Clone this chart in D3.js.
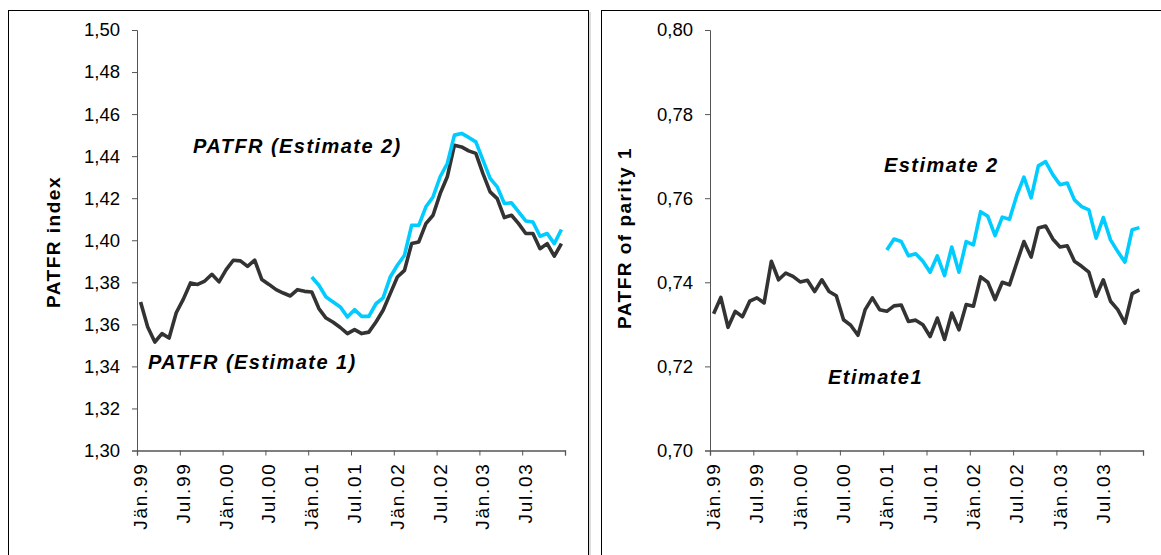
<!DOCTYPE html>
<html><head><meta charset="utf-8">
<script src="https://cdn.jsdelivr.net/npm/d3@7"></script>
<style>
html,body{margin:0;padding:0;background:#fff;}
svg{display:block;font-family:"Liberation Sans",Arial,sans-serif;}
</style></head>
<body>
<svg id="chart" width="1161" height="555"></svg>
<script>
// ---- data ----
const monthNames = ["Jän","Feb","Mär","Apr","Mai","Jun","Jul","Aug","Sep","Okt","Nov","Dez"];
const years = ["99","00","01","02","03"];
const categories = years.flatMap(y => monthNames.map(m => m + "." + y));
const xTickLabels = ["Jän.99","Jul.99","Jän.00","Jul.00","Jän.01","Jul.01","Jän.02","Jul.02","Jän.03","Jul.03"];

const patfrEst1 = [1.3706,1.3587,1.3516,1.3556,1.3535,1.3655,1.3720,1.3797,1.3790,1.3806,1.3838,1.3802,
  1.3860,1.3905,1.3902,1.3876,1.3905,1.3813,1.3790,1.3765,1.3749,1.3735,1.3765,1.3757,
  1.3754,1.3675,1.3630,1.3610,1.3585,1.3556,1.3575,1.3556,1.3563,1.3611,1.3667,1.3746,
  1.3825,1.3857,1.3984,1.3992,1.4079,1.4119,1.4222,1.4302,1.4452,1.4444,1.4425,1.4413,
  1.4317,1.4230,1.4198,1.4108,1.4119,1.4079,1.4032,1.4032,1.3960,1.3984,1.3924,1.3984];
const patfrEst2 = [null,null,null,null,null,null,null,null,null,null,null,null,
  null,null,null,null,null,null,null,null,null,null,null,null,
  1.3825,1.3786,1.3730,1.3706,1.3683,1.3635,1.3670,1.3638,1.3638,1.3698,1.3726,1.3825,
  1.3881,1.3929,1.4071,1.4071,1.4159,1.4206,1.4302,1.4365,1.4500,1.4508,1.4489,1.4468,
  1.4381,1.4294,1.4254,1.4175,1.4178,1.4135,1.4092,1.4087,1.4019,1.4032,1.3984,1.4051];
const parity1Est1 = [0.7325,0.7364,0.7293,0.7331,0.7318,0.7355,0.7363,0.7351,0.7450,0.7406,0.7422,0.7414,
  0.7401,0.7405,0.7378,0.7406,0.7378,0.7368,0.7311,0.7298,0.7274,0.7335,0.7363,0.7335,
  0.7331,0.7344,0.7346,0.7307,0.7310,0.7299,0.7271,0.7315,0.7264,0.7327,0.7287,0.7347,
  0.7343,0.7413,0.7400,0.7359,0.7400,0.7394,0.7446,0.7497,0.7460,0.7529,0.7534,0.7503,
  0.7484,0.7487,0.7450,0.7438,0.7424,0.7367,0.7406,0.7355,0.7335,0.7303,0.7373,0.7382];
const parity1Est2 = [null,null,null,null,null,null,null,null,null,null,null,null,
  null,null,null,null,null,null,null,null,null,null,null,null,
  0.7477,0.7503,0.7497,0.7463,0.7468,0.7450,0.7424,0.7463,0.7416,0.7484,0.7424,0.7497,
  0.7489,0.7568,0.7557,0.7511,0.7555,0.7550,0.7606,0.7650,0.7601,0.7677,0.7687,0.7656,
  0.7632,0.7636,0.7596,0.7580,0.7572,0.7505,0.7554,0.7501,0.7473,0.7448,0.7525,0.7530];

const leftTicks = [1.30,1.32,1.34,1.36,1.38,1.40,1.42,1.44,1.46,1.48,1.50];
const rightTicks = [0.70,0.72,0.74,0.76,0.78,0.80];

const COL_DARK = "#333333", COL_BLUE = "#00ccff";
const FONT = '"Liberation Sans",Arial,sans-serif';

const svg = d3.select("#chart");
const fmt = d => d3.format(".2f")(d).replace(".", ",");

function panel(cfg){
  // frame
  svg.append("rect").attr("x", cfg.frame[0]+0.5).attr("y", 10.5)
    .attr("width", cfg.frame[1]-cfg.frame[0]).attr("height", 600)
    .attr("fill","none").attr("stroke","#000").attr("stroke-width",1);
  svg.append("line").attr("x1", cfg.frame[1]+2).attr("x2", cfg.frame[1]+2)
    .attr("y1", 12).attr("y2", 555).attr("stroke","#bbb").attr("stroke-width",1);

  const x = d3.scalePoint().domain(categories).range([cfg.x0, cfg.x1]).padding(0.5);
  const xi = d3.scaleLinear().domain([0, categories.length]).range([cfg.x0, cfg.x1]);
  const y = d3.scaleLinear().domain(cfg.domain).range([cfg.yb, cfg.yt]);

  // y axis
  const ya = svg.append("g").attr("transform", `translate(${cfg.x0},0)`)
    .call(d3.axisLeft(y).tickValues(cfg.ticks).tickSize(5).tickPadding(12).tickFormat(fmt));
  ya.select(".domain").attr("stroke","#555");
  ya.selectAll(".tick line").attr("stroke","#555");
  ya.selectAll("text").attr("font-size", 18.5).attr("font-family", FONT).attr("fill","#000");

  // x axis
  const xa = svg.append("g").attr("transform", `translate(0,${cfg.yb})`)
    .call(d3.axisBottom(xi).tickValues(d3.range(0, categories.length+1, 6)).tickSize(5).tickFormat(""));
  xa.select(".domain").attr("stroke","#555").attr("stroke-width",1.3);
  xa.selectAll(".tick line").attr("stroke","#555");

  svg.append("g").selectAll("text").data(xTickLabels).join("text")
    .attr("transform", d => `translate(${x(d)+6.5},${cfg.yb+12}) rotate(-90)`)
    .attr("text-anchor","end")
    .attr("font-size", 19).attr("letter-spacing", 1.7).attr("font-family", FONT)
    .text(d => d);

  // axis title
  svg.append("text")
    .attr("transform", `translate(${cfg.titleX},${cfg.titleY}) rotate(-90)`)
    .attr("text-anchor","middle").attr("font-weight","bold")
    .attr("font-size", 19).attr("letter-spacing", 1.5).attr("font-family", FONT)
    .text(cfg.title);

  const line = d3.line().defined(d => d != null)
    .x((d,i) => x(categories[i])).y(d => y(d));
  svg.append("path").datum(cfg.s1).attr("d", line)
    .attr("fill","none").attr("stroke",COL_DARK).attr("stroke-width",3.6).attr("stroke-linejoin","round");
  svg.append("path").datum(cfg.s2).attr("d", line)
    .attr("fill","none").attr("stroke",COL_BLUE).attr("stroke-width",3.6).attr("stroke-linejoin","round");

  cfg.notes.forEach(n => {
    svg.append("text").attr("x", n[1]).attr("y", n[2])
      .attr("font-weight","bold").attr("font-style","italic")
      .attr("font-size", 20).attr("letter-spacing", 1.45).attr("font-family", FONT)
      .text(n[0]);
  });
}

panel({frame:[8,588], x0:137, x1:565, yb:450.5, yt:30, domain:[1.30,1.50], ticks:leftTicks,
  title:"PATFR index", titleX:60, titleY:242, s1:patfrEst1, s2:patfrEst2,
  notes:[["PATFR (Estimate 2)",193,153],["PATFR (Estimate 1)",148,369]]});
panel({frame:[601,1170], x0:710, x1:1143, yb:450.5, yt:30, domain:[0.70,0.80], ticks:rightTicks,
  title:"PATFR of parity 1", titleX:631, titleY:238, s1:parity1Est1, s2:parity1Est2,
  notes:[["Estimate 2",884,172],["Etimate1",828,384]]});
</script>
</body></html>
